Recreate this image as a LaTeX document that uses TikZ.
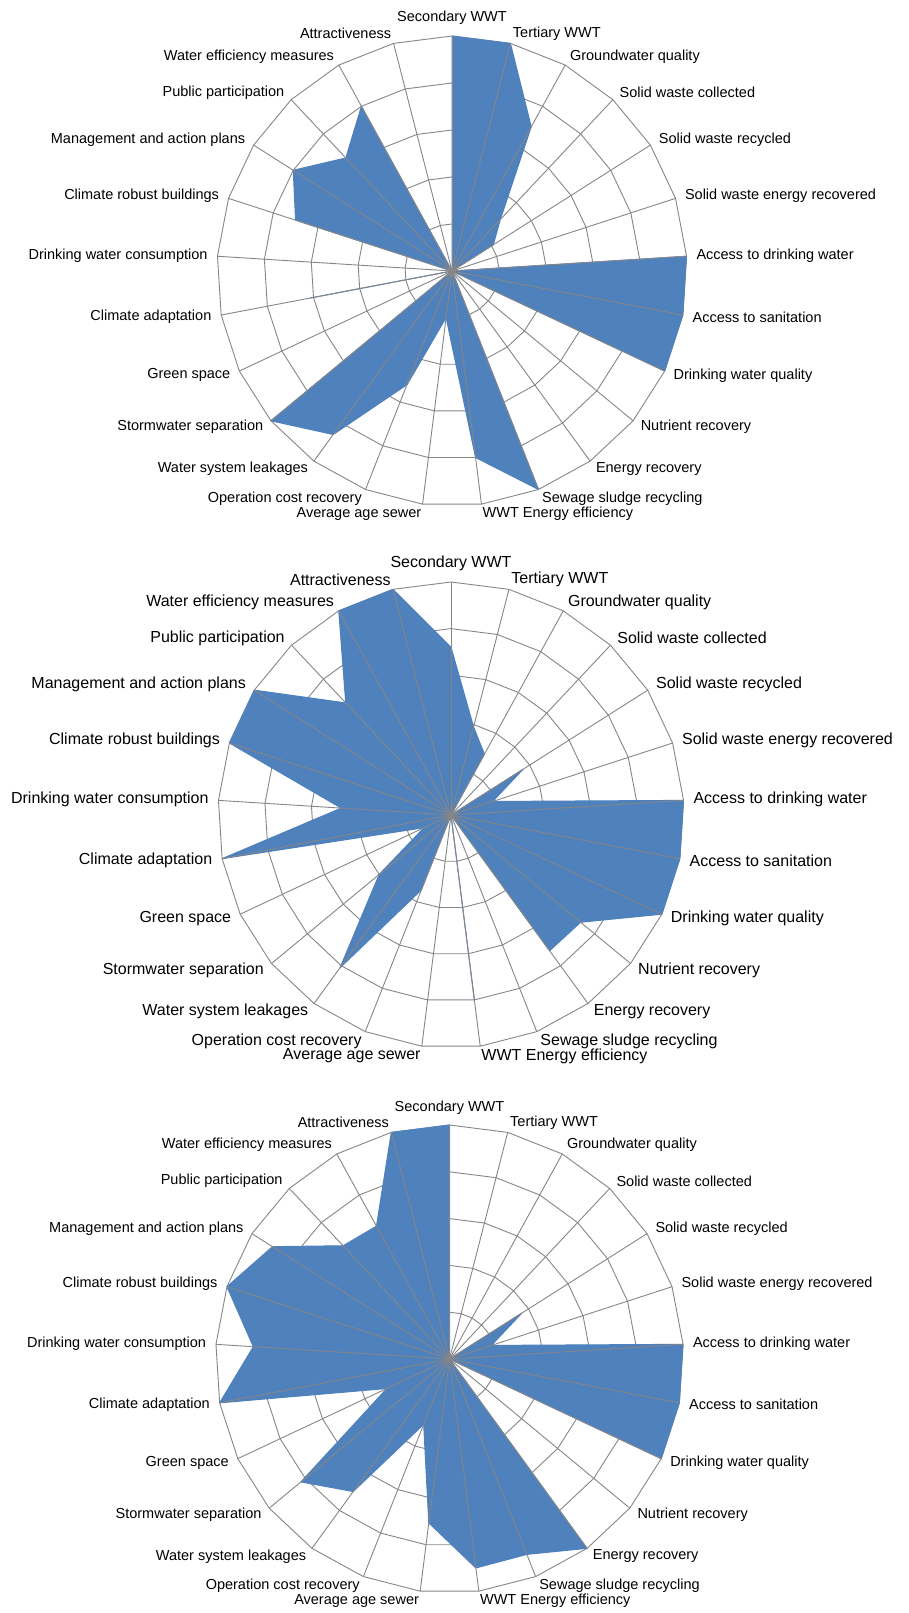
\documentclass[tikz,border=0pt]{standalone}
\usepackage{fontspec}
\setmainfont{Liberation Sans}
\definecolor{gridgray}{RGB}{134,134,134}
\definecolor{fillblue}{RGB}{79,129,189}
\tikzset{
  gridline/.style={draw=gridgray, line width=0.9pt},
  area/.style={fill=fillblue, draw=fillblue, line width=1pt, line join=round},
  axislabel/.style={inner sep=0pt, outer sep=0pt, text=black}
}
\newcommand\axisnames{Secondary WWT, Tertiary WWT, Groundwater quality, Solid waste collected, Solid waste recycled, Solid waste energy recovered, Access to drinking water, Access to sanitation, Drinking water quality, Nutrient recovery, Energy recovery, Sewage sludge recycling, WWT Energy efficiency, Average age sewer, Operation cost recovery, Water system leakages, Stormwater separation, Green space, Climate adaptation, Drinking water consumption, Climate robust buildings, Management and action plans, Public participation, Water efficiency measures, Attractiveness}
% #1 name, #2 cx, #3 cy, #4 R, #5 font size, #6 first value, #7 remaining 24 values
\newcommand\radarchart[7]{%
  \coordinate (#1-c) at (#2,#3);
  \foreach \k in {1,...,5}{
    \draw[gridline] (#2,{#3-#4*\k/5}) \foreach \j in {1,...,24}{ -- ({#2+#4*\k/5*cos(90-14.4*\j)},{#3-#4*\k/5*sin(90-14.4*\j)}) } -- cycle;
  }
  \path[area] (#2,{#3-#4*#6/5}) \foreach \v [count=\j] in {#7}{ -- ({#2+#4*\v/5*cos(90-14.4*\j)},{#3-#4*\v/5*sin(90-14.4*\j)}) } -- cycle;
  \foreach \j in {0,...,24}{
    \coordinate (#1-s\j) at ({#2+#4*cos(90-14.4*\j)},{#3-#4*sin(90-14.4*\j)});
    \draw[gridline] (#1-c) -- (#1-s\j);
  }
  \foreach \t [count=\j from 0] in \axisnames {
    \ifnum\j=0
      \node[axislabel, font={\fontsize{#5pt}{#5pt}\selectfont}, anchor=south] (#1-l\j) at (#2,{#3-#4-11}) {\t};
    \else\ifnum\j<13
      \node[axislabel, font={\fontsize{#5pt}{#5pt}\selectfont}, anchor=west] (#1-l\j) at ({#2+(#4+10)*cos(90-14.4*\j)},{#3-(#4+10)*sin(90-14.4*\j)}) {\t};
    \else
      \node[axislabel, font={\fontsize{#5pt}{#5pt}\selectfont}, anchor=east] (#1-l\j) at ({#2+(#4+10)*cos(90-14.4*\j)},{#3-(#4+10)*sin(90-14.4*\j)}) {\t};
    \fi\fi
  }
}
\begin{document}
\begin{tikzpicture}[x=1pt,y=-1pt]
\fill[white] (0,0) rectangle (909,1613);
\useasboundingbox (0,0) rectangle (909,1613);
\radarchart{c1}{452}{271}{235}{14.5}{5}{5, 3.5, 1.5, 1.04, 0, 5, 5, 5, 0, 0, 5, 4, 1, 2.6, 4.3, 5, 0, 3.07, 0, 3.5, 4, 3.3, 4, 0}
\radarchart{c2}{451}{815}{233}{16}{3.6}{1.95, 1.49, 0, 1.83, 0.94, 5, 5, 5, 3.61, 3.6, 0, 4, 0, 1.73, 4.05, 2, 0.64, 5, 2.36, 5, 5, 3.3, 5, 5}
\radarchart{c3}{449.5}{1359}{234}{14.5}{5}{0, 0, 0, 1.83, 0.94, 5, 5, 5, 0, 5, 4.49, 4.5, 3.53, 1.5, 3.5, 4.12, 1.48, 5, 4.2, 5, 4.48, 3.32, 3.24, 5}
\end{tikzpicture}
\end{document}
